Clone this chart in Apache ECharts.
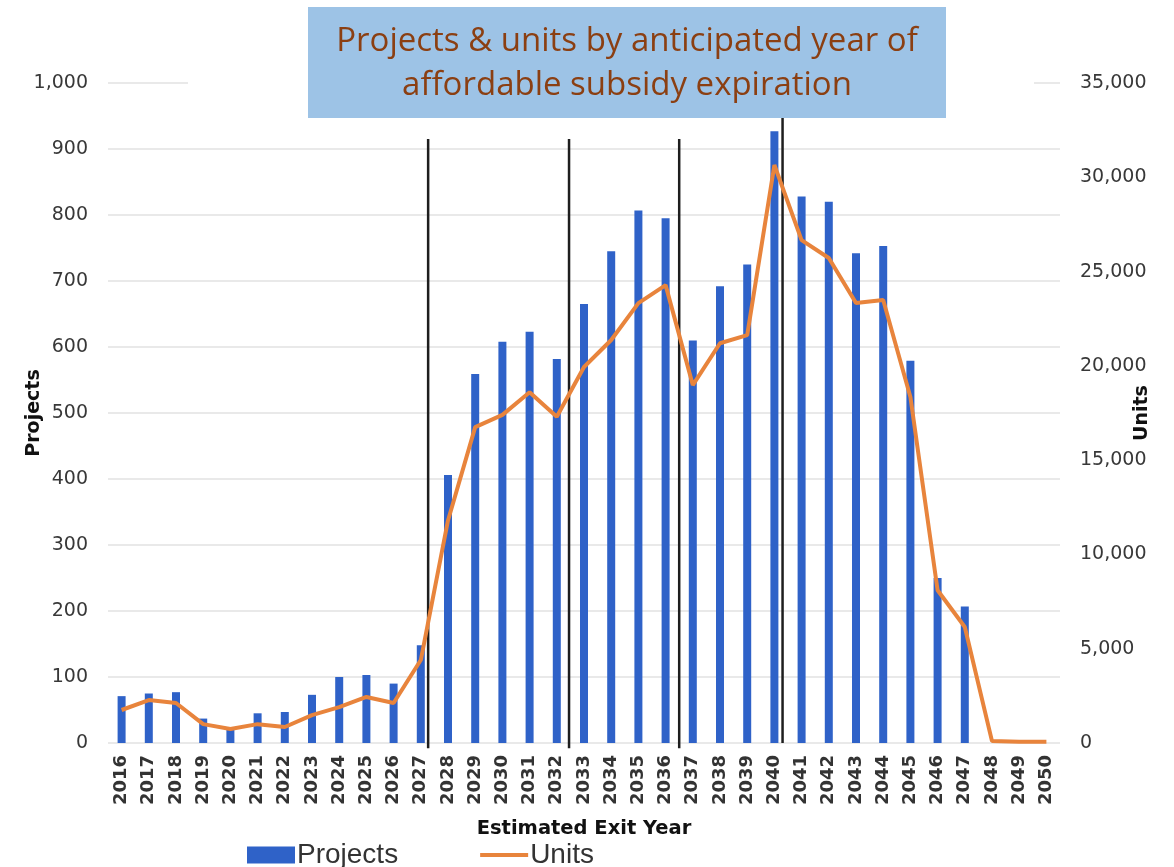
<!DOCTYPE html>
<html>
<head>
<meta charset="utf-8">
<script src="https://cdn.jsdelivr.net/npm/echarts@6/dist/echarts.min.js"></script>
<style>
html,body{margin:0;padding:0;background:#fff;}
#chart{width:1174px;height:867px;}
</style>
</head>
<body>
<div id="chart"></div>
<script>
const years = ['2016','2017','2018','2019','2020','2021','2022','2023','2024','2025','2026','2027','2028','2029','2030','2031','2032','2033','2034','2035','2036','2037','2038','2039','2040','2041','2042','2043','2044','2045','2046','2047','2048','2049','2050'];
const projects = [71,75,77,37,20,45,47,73,100,103,90,148,406,559,608,623,582,665,745,807,795,610,692,725,927,828,820,742,753,579,250,207,0,0,0];
const units = [1750,2280,2120,1000,740,1000,850,1480,1900,2440,2120,4400,11800,16750,17400,18600,17300,19940,21370,23330,24280,18980,21200,21630,30650,26670,25720,23330,23490,18350,8100,6150,100,60,60];
// vertical separator lines: positions in category-index units, with their bottom/top on the Projects scale
const cutoffPos = [11.27, 16.45, 20.5, 24.3];
const cutoffTop = [915, 915, 915, 965];
const cutoffBottom = [-8, -8, -8, 0];
const projectTicks = {min:0, max:1000, interval:100};
const unitTicks = {min:0, max:35000, interval:5000};

const fmt = v => v.toLocaleString('en-US');

const chart = echarts.init(document.getElementById('chart'), null, {renderer:'canvas'});

const cutoffSeries = cutoffPos.map((p, i) => ({
  type:'line', xAxisIndex:1, yAxisIndex:0, clip:false, silent:true,
  symbol:'none', z:4,
  lineStyle:{color:'#1e1e1e', width:2.5},
  data:[[p, cutoffBottom[i]], [p, cutoffTop[i]]],
  tooltip:{show:false}
}));

chart.setOption({
  animation:false,
  backgroundColor:'#fff',
  grid:{left:108, right:114, top:83, bottom:124, containLabel:false, outerBoundsMode:'none'},
  legend:{
    left:242, top:836, itemWidth:48, itemHeight:17, itemGap:82,
    textStyle:{fontFamily:'Liberation Sans', fontSize:28, color:'#333', padding:[0,0,0,-3]},
    data:[
      {name:'Projects', icon:'rect'},
      {name:'Units', icon:'path://M0,0 M0,6.5 L48,6.5 L48,10.5 L0,10.5 Z M48,17', itemStyle:{color:'#e8843c'}}
    ]
  },
  xAxis:[{
    type:'category', data:years, boundaryGap:true,
    axisLine:{show:false}, axisTick:{show:false},
    axisLabel:{rotate:90, interval:0, fontFamily:'DejaVu Sans', fontWeight:'bold', fontSize:18, color:'#333', margin:12},
    name:'Estimated Exit Year', nameLocation:'middle', nameGap:76, nameMoveOverlap:false,
    nameTextStyle:{fontFamily:'DejaVu Sans', fontWeight:'bold', fontSize:19.5, color:'#111'}
  },{
    type:'value', min:-0.5, max:34.5, show:false
  }],
  yAxis:[{
    type:'value', min:projectTicks.min, max:projectTicks.max, interval:projectTicks.interval,
    axisLine:{show:false}, axisTick:{show:false},
    splitLine:{lineStyle:{color:'#e9e9e9', width:2}},
    axisLabel:{formatter:fmt, fontFamily:'DejaVu Sans', fontSize:19, color:'#383838', margin:20},
    name:'Projects', nameLocation:'middle', nameGap:64, nameRotate:90, nameMoveOverlap:false,
    nameTextStyle:{fontFamily:'DejaVu Sans', fontWeight:'bold', fontSize:19, color:'#111'}
  },{
    type:'value', min:unitTicks.min, max:unitTicks.max, interval:unitTicks.interval,
    axisLine:{show:false}, axisTick:{show:false}, splitLine:{show:false},
    axisLabel:{formatter:fmt, fontFamily:'DejaVu Sans', fontSize:19, color:'#383838', margin:20},
    name:'Units', nameLocation:'middle', nameGap:73, nameRotate:90, nameMoveOverlap:false,
    nameTextStyle:{fontFamily:'DejaVu Sans', fontWeight:'bold', fontSize:19, color:'#111'}
  }],
  series:[{
    name:'Projects', type:'bar', data:projects, barWidth:8, yAxisIndex:0, z:2,
    itemStyle:{color:'#2f62c8'}
  },{
    name:'Units', type:'line', data:units, yAxisIndex:1, symbol:'none', z:5,
    lineStyle:{color:'#e8843c', width:4}, itemStyle:{color:'#e8843c'}
  }].concat(cutoffSeries),
  graphic:[
    {type:'rect', z:90, shape:{x:188, y:78, width:846, height:10}, style:{fill:'#fff'}},
    {type:'rect', z:100, shape:{x:308, y:7, width:638, height:111}, style:{fill:'#9dc3e6'}},
    {type:'text', z:101, style:{
      x:627, y:42, text:'Projects & units by anticipated year of', align:'center', verticalAlign:'middle',
      fontFamily:'Open Sans', fontSize:33, fill:'#8b3f12'}},
    {type:'text', z:101, style:{
      x:627, y:86, text:'affordable subsidy expiration', align:'center', verticalAlign:'middle',
      fontFamily:'Open Sans', fontSize:33, fill:'#8b3f12'}}
  ]
});
</script>
</body>
</html>
